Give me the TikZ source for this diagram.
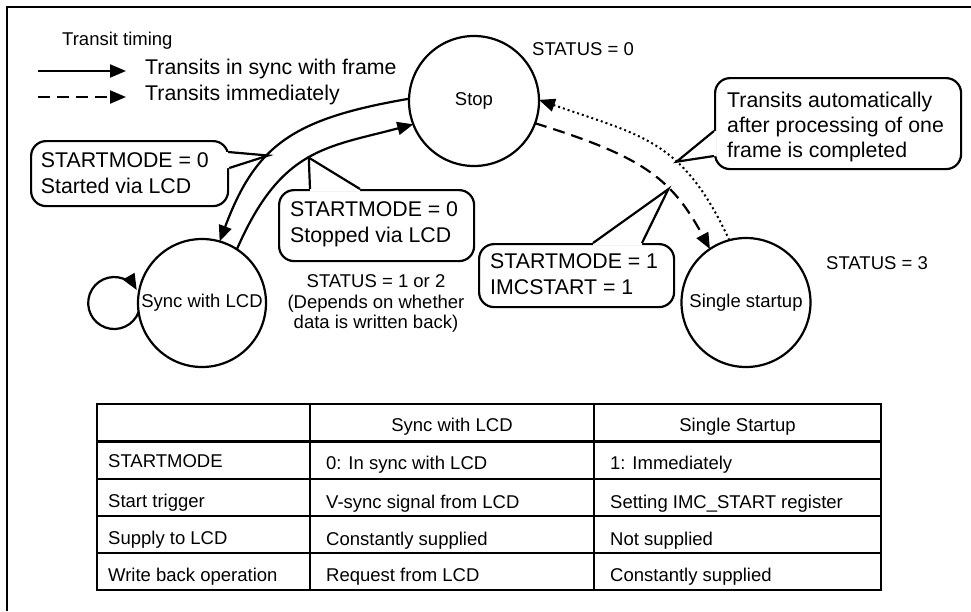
\documentclass[tikz,border=0pt]{standalone}
\usepackage{fontspec}
\setmainfont{Liberation Sans}
\usetikzlibrary{arrows.meta,calc}
\pgfdeclarelayer{paper}
\pgfdeclarelayer{back}
\pgfsetlayers{paper,back,main}
\newcommand{\lblfont}{\fontsize{18.5}{21}\selectfont}
\newcommand{\callfont}{\fontsize{21.3}{25.5}\selectfont}
% pointer of a speech bubble: base points #1 and #3, tip #2, #4 pushes the cover into the box
\newcommand{\calloutptr}[4]{%
  \fill[white] (#1) -- (#2) -- (#3) -- ($(#3)+(#4)$) -- ($(#1)+(#4)$) -- cycle;
  \draw[ptrline] (#1) -- (#2) -- (#3);
}
\tikzset{
  stnode/.style={circle, draw, line width=2.2pt, inner sep=0pt, outer sep=0pt, font=\lblfont},
  flow/.style={line width=2.2pt, -{Triangle[length=16pt,width=13pt]}},
  immed/.style={flow, dash pattern=on 12pt off 7pt},
  autoflow/.style={line width=2pt, dash pattern=on 2pt off 3pt, -{Triangle[length=16pt,width=13pt]}},
  lbl/.style={font=\lblfont, inner sep=0pt, anchor=base west},
  clbl/.style={font=\lblfont, inner sep=0pt, anchor=base},
  bigl/.style={font=\callfont, inner sep=0pt, anchor=base west},
  callbox/.style={draw, line width=2.2pt, rounded corners=15pt, fill=white, inner sep=0pt, anchor=north west},
  calltext/.style={font=\callfont, inner sep=0pt, align=left, anchor=north west},
  ptrline/.style={line width=2.2pt, line join=miter},
  cell/.style={font=\lblfont, inner sep=0pt, anchor=base west},
  head/.style={font=\lblfont, inner sep=0pt, anchor=base},
}
\begin{document}
\begin{tikzpicture}[x=1pt, y=1pt]
\begin{pgfonlayer}{paper}
  \fill[white] (0,0) rectangle (971,-611);
\end{pgfonlayer}
\useasboundingbox (0,0) rectangle (971,-611);

% frame (top and left edges)
\draw[line width=2.4pt] (7,-611) -- (7,-7) -- (971,-7);

% legend
\node[lbl] (legtitle) at (62,-45) {Transit timing};
\coordinate (la1) at (38,-71);
\coordinate (lb1) at (126,-71);
\coordinate (la2) at (38,-97);
\coordinate (lb2) at (126,-97);
\draw[line width=2.2pt, -{Triangle[length=16pt,width=13pt]}] (la1) -- (lb1);
\draw[line width=2.2pt, dash pattern=on 12pt off 7pt, -{Triangle[length=16pt,width=13pt]}] (la2) -- (lb2);
\node[bigl] (legsync) at (145,-74) {Transits in sync with frame};
\node[bigl] (legimm) at (145,-100) {Transits immediately};

% states
\node[stnode, minimum size=130pt] (stop) at (474,-101) {Stop};
\node[stnode, minimum size=128pt] (sync) at (202,-303) {Sync with LCD};
\node[stnode, minimum size=129pt] (single) at (746,-302.5) {Single startup};

% status labels
\node[lbl] (st0) at (532,-55.6) {STATUS = 0};
\node[lbl] (st3) at (826,-269) {STATUS = 3};
\node[clbl] (st12a) at (376,-287.5) {STATUS = 1 or 2};
\node[clbl] (st12b) at (376,-308.3) {(Depends on whether};
\node[clbl] (st12c) at (376,-328.6) {data is written back)};

% transitions
\draw[flow] (stop.178) .. controls +(-117,-20) and +(36,96) .. (sync.74.5)
  coordinate[pos=0.6] (t1);
\draw[flow] (sync.57) .. controls +(44,101) and +(-87.5,-23.2) .. (stop.201.5)
  coordinate[pos=0.5] (t2);
\draw[immed] (stop.-20.7) .. controls +(105,-32.7) and +(-39.2,72.7) .. (single.124.4)
  coordinate[pos=0.65] (t3);
\draw[autoflow] (single.105.6) .. controls +(-46.6,100.9) and +(103.1,-36.2) .. (stop.1)
  coordinate[pos=0.37] (t4);
\draw[flow] (sync.188) arc[start angle=-20, end angle=-330, radius=26];

% speech bubbles
\begin{pgfonlayer}{back}
  \node[callbox, minimum width=197pt, minimum height=65pt] (c1) at (30,-140) {};
  \node[callbox, minimum width=195pt, minimum height=71pt] (c2) at (278,-189) {};
  \node[callbox, minimum width=195pt, minimum height=63pt] (c3) at (478,-243) {};
  \node[callbox, minimum width=246pt, minimum height=91pt] (c4) at (714,-77) {};
  \calloutptr{$(c1.north east)+(-1,-12)$}{t1}{$(c1.north east)+(0,-28)$}{-2.5,0}
  \calloutptr{$(c2.north west)+(32,0)$}{t2}{$(c2.north west)+(82,0)$}{0,-2.5}
  \calloutptr{$(c3.north west)+(115,0)$}{t3}{$(c3.north west)+(164,0)$}{0,-2.5}
  \calloutptr{$(c4.north west)+(0,-54)$}{t4}{$(c4.north west)+(0,-79)$}{2.5,0}
\end{pgfonlayer}
\node[calltext] (c1t) at (40.7,-152.6) {STARTMODE = 0\\Started via LCD};
\node[calltext] (c2t) at (290,-201.6) {STARTMODE = 0\\Stopped via LCD};
\node[calltext] (c3t) at (490,-253.6) {STARTMODE = 1\\IMCSTART = 1};
\node[calltext, font=\fontsize{21.3}{24.7}\selectfont] (c4t) at (727,-92) {Transits automatically\\after processing of one\\frame is completed};

% comparison table
\draw[line width=2.2pt] (97,-441.5) -- (881,-441.5);
\draw[line width=1.7pt] (97,-479) -- (881,-479);
\draw[line width=1.7pt] (97,-516) -- (881,-516);
\draw[line width=1.7pt] (97,-553) -- (881,-553);
\draw[line width=2.2pt] (310,-404) -- (310,-590);
\draw[line width=2.2pt] (594,-404) -- (594,-590);
\draw[line width=2.8pt] (97,-404) rectangle (881,-590);

\node[head] (h2) at (452,-431.5) {Sync with LCD};
\node[head] (h3) at (737.5,-431.5) {Single Startup};

\node[cell] (r1a) at (108,-467.5) {STARTMODE};
\node[cell] (r1b) at (326,-469.5) {0: In sync with LCD};
\node[cell] (r1c) at (610,-469.5) {1: Immediately};

\node[cell] (r2a) at (108,-507) {Start trigger};
\node[cell] (r2b) at (326,-508) {V-sync signal from LCD};
\node[cell] (r2c) at (610,-508) {Setting IMC\_START register};

\node[cell] (r3a) at (108,-544.3) {Supply to LCD};
\node[cell] (r3b) at (326,-545) {Constantly supplied};
\node[cell] (r3c) at (610,-545) {Not supplied};

\node[cell] (r4a) at (108,-581.5) {Write back operation};
\node[cell] (r4b) at (326,-581) {Request from LCD};
\node[cell] (r4c) at (610,-581.5) {Constantly supplied};
\end{tikzpicture}
\end{document}
